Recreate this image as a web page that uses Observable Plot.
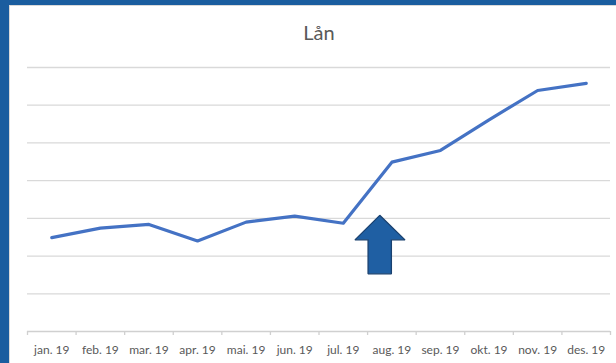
<!DOCTYPE html>
<html>
<head>
<meta charset="utf-8">
<script src="https://cdn.jsdelivr.net/npm/d3@7"></script>
<script src="https://cdn.jsdelivr.net/npm/@observablehq/plot@0.6"></script>
<style>
  html, body { margin: 0; padding: 0; background: #fff; }
  #wrap { position: relative; width: 616px; height: 363px; overflow: hidden; font-family: Lato, "Open Sans", sans-serif; }
  #chart { position: absolute; left: 0; top: 0; }
  .bl { position: absolute; left: 0; top: 0; width: 9px; height: 363px; background: #1a5d9f; }
  .bl2 { position: absolute; left: 9px; top: 5px; width: 1px; height: 358px; background: #d9d9d9; }
  .bt { position: absolute; left: 0; top: 0; width: 616px; height: 5px; background: #1a5d9f; }
  .bt2 { position: absolute; left: 9px; top: 5px; width: 607px; height: 1px; background: #d9d9d9; }
  #title { position: absolute; left: 0; width: 638px; top: 20px; text-align: center; font-size: 20px; color: #595959; }
</style>
</head>
<body>
<div id="wrap">
  <div id="chart"></div>
  <div class="bl"></div><div class="bl2"></div><div class="bt"></div><div class="bt2"></div>
  <div id="title">Lån</div>
</div>
<script>
const months = ["jan. 19","feb. 19","mar. 19","apr. 19","mai. 19","jun. 19","jul. 19","aug. 19","sep. 19","okt. 19","nov. 19","des. 19"];
const values = [2.49, 2.74, 2.84, 2.40, 2.90, 3.06, 2.87, 4.49, 4.80, 5.61, 6.39, 6.58];
const gridValues = [1, 2, 3, 4, 5, 6, 7];
// up-arrow annotation outline, in data units (x = month index, y = value)
const arrowX = [6.75, 7.27, 6.99, 6.99, 6.51, 6.51, 6.24, 6.75];
const arrowY = [3.08, 2.43, 2.43, 1.53, 1.53, 2.43, 2.43, 3.08];

const data = months.map((m, i) => ({i, m, v: values[i]}));
const arrow = arrowX.map((x, k) => ({x, y: arrowY[k]}));
const boundaries = d3.range(months.length + 1).map(k => k - 0.5);

const plot = Plot.plot({
  width: 616,
  height: 363,
  marginLeft: 27,
  marginRight: 6,
  marginTop: 67,
  marginBottom: 32,
  style: {fontFamily: "Lato, 'Open Sans', sans-serif", fontSize: "12px", color: "#595959", background: "transparent"},
  x: {type: "linear", domain: [-0.5, months.length - 0.5]},
  y: {domain: [0, 7]},
  marks: [
    Plot.ruleY(gridValues, {stroke: "#d9d9d9", strokeWidth: 1.3}),
    Plot.ruleY([0], {stroke: "#d0d0d0", strokeWidth: 1.3}),
    Plot.axisX({ticks: boundaries, tickFormat: () => "", tickSize: 4, stroke: "#d0d0d0", strokeWidth: 1.3}),
    Plot.axisX({ticks: d3.range(months.length), tickFormat: i => months[i], tickSize: 0, tickPadding: 14, fill: "#595959", fontSize: 12}),
    Plot.axisY({ticks: [], label: null}),
    Plot.line(data, {x: "i", y: "v", stroke: "#4472c4", strokeWidth: 3.2, strokeLinejoin: "round", strokeLinecap: "round"}),
    Plot.line(arrow, {x: "x", y: "y", fill: "#1f5fa3", stroke: "#1a416f", strokeWidth: 1.3, strokeLinejoin: "miter", curve: "linear-closed"})
  ]
});
document.getElementById("chart").appendChild(plot);
</script>
</body>
</html>
